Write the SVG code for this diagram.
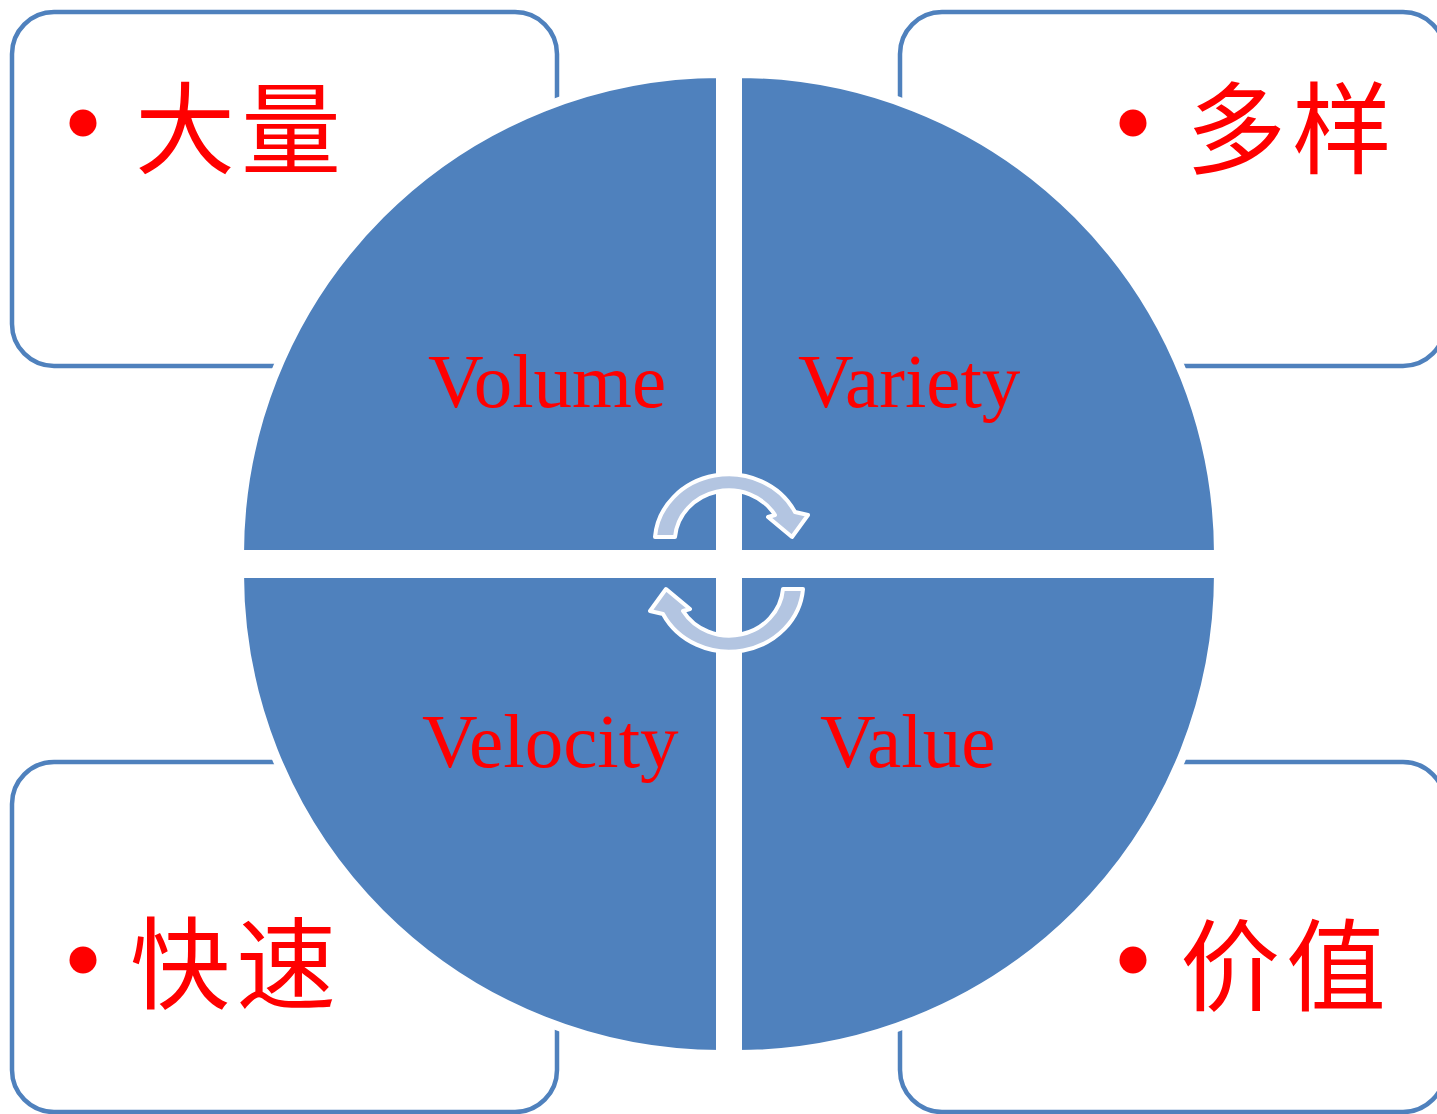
<svg xmlns="http://www.w3.org/2000/svg" width="1437" height="1114" viewBox="0 0 1437 1114">
<style>
.box{fill:#FFFFFF;stroke:#4F81BD;stroke-width:4.5}
.quad{fill:#4F81BD;stroke:#FFFFFF;stroke-width:9}
.en{font-family:"Liberation Serif","Times New Roman",serif;font-size:77px;fill:#FF0000}
.zh{font-family:"Noto Sans CJK SC","Noto Sans CJK TC",sans-serif;font-size:100px;letter-spacing:6px;fill:#FF0000}
.dot{fill:#FF0000}
.arrow{fill:#B3C5E1;stroke:#FFFFFF;stroke-width:4;stroke-linejoin:round}
</style>
<rect width="1437" height="1114" fill="#FFFFFF"/>
<g id="box-volume">
<rect class="box" x="12" y="12" width="545" height="354" rx="42"/>
<circle class="dot" cx="83" cy="123" r="13.5"/>
<text class="zh" x="135" y="166">大量</text>
</g>
<g id="box-variety">
<rect class="box" x="900" y="12" width="545" height="354" rx="42"/>
<circle class="dot" cx="1133" cy="123" r="13.5"/>
<text class="zh" x="1186" y="166">多样</text>
</g>
<g id="box-velocity">
<rect class="box" x="12" y="762" width="545" height="350" rx="42"/>
<circle class="dot" cx="83" cy="960" r="13.5"/>
<text class="zh" x="130" y="1001">快速</text>
</g>
<g id="box-value">
<rect class="box" x="900" y="762" width="545" height="350" rx="42"/>
<circle class="dot" cx="1133" cy="960" r="13.5"/>
<text class="zh" x="1180" y="1003">价值</text>
</g>
<g id="quad-volume">
<path class="quad" d="M 720.5 554.5 L 239.5 554.5 A 481 481 0 0 1 720.5 73.5 Z"/>
<text class="en" x="428" y="407">Volume</text>
</g>
<g id="quad-variety">
<path class="quad" d="M 737.5 554.5 L 737.5 73.5 A 481 481 0 0 1 1218.5 554.5 Z"/>
<text class="en" x="798" y="407">Variety</text>
</g>
<g id="quad-velocity">
<path class="quad" d="M 720.5 573.5 L 720.5 1054.5 A 481 481 0 0 1 239.5 573.5 Z"/>
<text class="en" x="422" y="767">Velocity</text>
</g>
<g id="quad-value">
<path class="quad" d="M 737.5 573.5 L 1218.5 573.5 A 481 481 0 0 1 737.5 1054.5 Z"/>
<text class="en" x="820" y="767">Value</text>
</g>
<g id="connectors">
<path class="arrow" d="M 655 537 A 74 68 0 0 1 795 512 L 808 515 L 792 537 L 768 517 L 775 515 A 54 51 0 0 0 675 537 Z"/>
<path class="arrow" transform="rotate(180 729 563)" d="M 655 537 A 74 68 0 0 1 795 512 L 808 515 L 792 537 L 768 517 L 775 515 A 54 51 0 0 0 675 537 Z"/>
</g>
</svg>
